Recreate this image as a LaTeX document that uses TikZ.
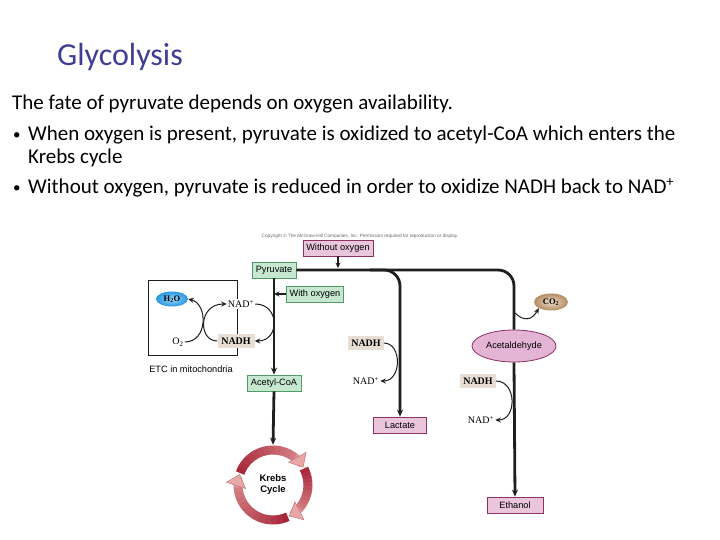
\documentclass[tikz,border=0pt]{standalone}
\usepackage{fontspec}
\setmainfont{Carlito}
\newfontfamily\arialf{Liberation Sans}
\newfontfamily\timesf{Liberation Serif}
\usetikzlibrary{arrows.meta,shapes.geometric}
\definecolor{titleblue}{RGB}{62,62,150}
\definecolor{pinkfill}{RGB}{233,198,220}
\definecolor{pinkdraw}{RGB}{140,50,100}
\definecolor{acetfill}{RGB}{228,180,212}
\definecolor{greenfill}{RGB}{198,232,208}
\definecolor{greendraw}{RGB}{80,155,105}
\definecolor{beigefill}{RGB}{232,222,212}
\definecolor{lineblack}{RGB}{30,30,30}
\definecolor{krebsred}{RGB}{168,40,58}
\definecolor{krebstip}{RGB}{232,168,168}
\definecolor{krebstipdraw}{RGB}{190,110,110}
\tikzset{
  slide/.style={anchor=base west, inner sep=0pt, font=\fontsize{21}{24}\selectfont},
  bulletdot/.style={anchor=base west, inner sep=0pt, font=\fontsize{15}{18}\selectfont},
  greenbox/.style={draw=greendraw, fill=greenfill, line width=0.8pt, font=\arialf\fontsize{9.2}{10}\selectfont, minimum height=16pt, inner xsep=3pt, inner ysep=0pt},
  pinkbox/.style={draw=pinkdraw, fill=pinkfill, line width=0.8pt, font=\arialf\fontsize{9.2}{10}\selectfont, minimum height=16pt, inner xsep=3pt, inner ysep=0pt},
  nadhbox/.style={fill=beigefill, font=\timesf\bfseries\fontsize{10}{11}\selectfont, minimum height=14pt, inner xsep=3pt, inner ysep=0pt},
  nadlabel/.style={font=\timesf\fontsize{10}{11}\selectfont, inner sep=1pt, fill=white},
  thickline/.style={draw=lineblack, line width=2.8pt},
  thickarrow/.style={thickline, -{Stealth[length=7pt,width=6pt]}},
  thinarrow/.style={draw=lineblack, line width=1pt, -{Stealth[length=5.5pt,width=5pt]}},
}
\begin{document}
\begin{tikzpicture}[x=1pt,y=-1pt]
\useasboundingbox (0,0) rectangle (720,540);
% slide text
\node[anchor=base west, inner sep=0pt, text=titleblue, font=\fontsize{32}{34}\selectfont] (title) at (57,66) {Glycolysis};
\node[slide] (t1) at (12,110) {The fate of pyruvate depends on oxygen availability.};
\node[bulletdot] (b1) at (13,140) {•};
\node[slide] (t2) at (28,141) {When oxygen is present, pyruvate is oxidized to acetyl-CoA which enters the};
\node[slide] (t3) at (28,164) {Krebs cycle};
\node[bulletdot] (b2) at (13,193) {•};
\node[slide] (t4) at (28,194) {Without oxygen, pyruvate is reduced in order to oxidize NADH back to NAD\textsuperscript{+}};
% copyright
\node[text=black!60, font=\arialf\fontsize{4.7}{5}\selectfont, inner sep=0pt] (copy) at (360,236) {Copyright © The McGraw-Hill Companies, Inc. Permission required for reproduction or display.};
% ETC box
\draw[lineblack, line width=0.8pt] (148,280) rectangle (237,355);
\node[font=\arialf\fontsize{9.2}{10}\selectfont, inner sep=0pt] (etc) at (191,369) {ETC in mitochondria};
% nodes
\node[pinkbox, minimum width=70pt] (without) at (338,248) {Without oxygen};
\node[greenbox, minimum width=44pt] (pyr) at (274,270) {Pyruvate};
\node[greenbox, minimum width=56pt] (with) at (315,294) {With oxygen};
\node[greenbox, minimum width=54pt] (acetyl) at (274,383) {Acetyl-CoA};
\node[ellipse, shading=radial, inner color={rgb,255:red,150;green,215;blue,250}, outer color={rgb,255:red,40;green,150;blue,225}, minimum width=32pt, minimum height=15pt, inner sep=0pt, font=\timesf\bfseries\fontsize{8.5}{9}\selectfont] (h2o) at (172,299) {H\textsubscript{2}O};
\node[nadlabel] (nadp1) at (241,304) {NAD\textsuperscript{+}};
\node[font=\timesf\fontsize{10}{11}\selectfont, inner sep=1pt] (o2) at (178,342) {O\textsubscript{2}};
\node[nadhbox, minimum width=37pt] (nadh1) at (236,341) {NADH};
\node[nadhbox, minimum width=35pt] (nadh2) at (366,343) {NADH};
\node[nadlabel] (nadp2) at (366,381) {NAD\textsuperscript{+}};
\node[pinkbox, minimum width=53pt] (lactate) at (400,425) {Lactate};
\node[ellipse, draw=pinkdraw, line width=0.8pt, fill=acetfill, minimum width=84pt, minimum height=32pt, inner sep=0pt, font=\arialf\fontsize{9.2}{10}\selectfont] (acet) at (514,346) {Acetaldehyde};
\node[ellipse, shading=radial, inner color={rgb,255:red,235;green,220;blue,200}, outer color={rgb,255:red,180;green,140;blue,100}, minimum width=34pt, minimum height=17pt, inner sep=0pt, font=\timesf\bfseries\fontsize{8.5}{9}\selectfont] (co2) at (551,302) {CO\textsubscript{2}};
\node[nadhbox, minimum width=35pt] (nadh3) at (478,381) {NADH};
\node[nadlabel] (nadp3) at (481,420) {NAD\textsuperscript{+}};
\node[pinkbox, minimum width=56pt] (ethanol) at (515,505) {Ethanol};
% Krebs cycle
\node[circle, minimum size=80pt, inner sep=0pt, font=\arialf\bfseries\fontsize{9.5}{11}\selectfont, align=center] (krebs) at (273,485) {Krebs\\Cycle};
\begin{scope}[shift={(krebs.center)}, yscale=-1]
\foreach \s/\e/\t in {160/50/30, 28/-43/-63, -65/-178/-198} {
  \foreach \k in {0,...,11} {
    \pgfmathsetmacro{\a}{\s+(\e-\s)*\k/12}
    \pgfmathsetmacro{\b}{\s+(\e-\s)*(\k+1)/12-1}
    \pgfmathtruncatemacro{\p}{100-\k*6}
    \draw[line width=9pt, color=krebsred!\p!krebstip] (\a:35) arc[start angle=\a, end angle=\b, radius=35];
  }
  \pgfmathsetmacro{\c}{\e+2}
  \draw[line width=9pt, color=krebstip!85!krebsred, -{Triangle[width=21pt,length=12pt,fill=krebstip,color=krebstipdraw,line width=0.4pt]}] (\c:35) arc[start angle=\c, end angle=\t, radius=35];
}
\end{scope}
% connectors
\coordinate (jw) at (338,268);
\draw[thinarrow, line width=1.2pt] (without.south) -- (jw);
\draw[thickarrow] (pyr.south) -- (acetyl.north);
\draw[thinarrow, line width=1.4pt] (with.west) -- (with.west -| pyr.south);
\draw[thickarrow] (acetyl.south) -- (krebs.north);
\draw[thickline, rounded corners=16pt] (pyr.east) -| (acet.north);
\coordinate (jl) at (370,270);
\draw[thickarrow, rounded corners=16pt] (jl) -| (lactate.north);
\draw[thickarrow] (acet.south) -- (ethanol.north);
% curved arrows ETC
\draw[thinarrow] (o2.east) .. controls (208,342) and (208,304) .. (h2o.east);
\draw[thinarrow] (nadh1.west) .. controls (198,341) and (198,304) .. (nadp1.west);
\draw[thinarrow] (nadp1.east) .. controls (280,304) and (280,341) .. (nadh1.east);
% lactate side
\draw[thinarrow] (nadh2.east) .. controls (402,343) and (402,381) .. (nadp2.east);
% ethanol side
\draw[thinarrow] (nadh3.east) .. controls (517,381) and (517,420) .. (nadp3.east);
\coordinate (jc) at (515,313);
\draw[thinarrow] (jc) .. controls (524,322) and (532,320) .. (co2.south west);
\end{tikzpicture}
\end{document}
